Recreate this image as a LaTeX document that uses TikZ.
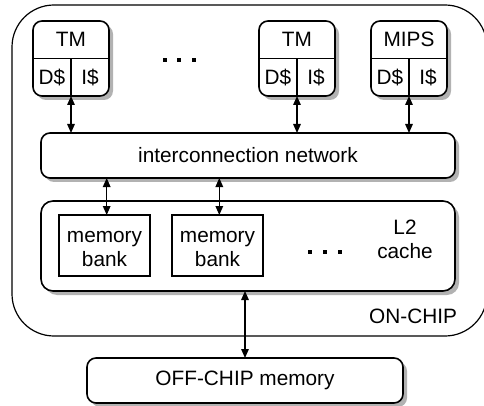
\documentclass[tikz,border=0pt]{standalone}
\usepackage{fontspec}
\setmainfont{Liberation Sans}
\usetikzlibrary{arrows.meta,shadows,calc}

\begin{document}
\begin{tikzpicture}[x=1pt,y=-1pt,
  txt/.style={font=\fontsize{20.8}{24}\selectfont, inner sep=0pt, outer sep=0pt},
  shadowbox/.style={draw, line width=1.6pt, fill=white, rounded corners=#1,
    inner sep=0pt, outer sep=0pt,
    drop shadow={shadow xshift=4pt, shadow yshift=-4pt, fill=black!30, opacity=1}},
  cpu/.style={shadowbox=9pt, minimum width=76pt, minimum height=75pt},
  divider/.style={line width=1.4pt},
  bankbox/.style={draw, line width=1.5pt, fill=white, minimum width=91pt,
    minimum height=61pt, inner sep=0pt, outer sep=0pt},
  chipbox/.style={draw, line width=1.2pt, rounded corners=42pt,
    inner sep=0pt, outer sep=0pt},
  dotsq/.style={fill=black, minimum size=4pt, inner sep=0pt},
  biarrow/.style={{Triangle[length=9pt,width=7.5pt]}-{Triangle[length=9pt,width=7.5pt]},
    line width=1.4pt},
]
\useasboundingbox (0,0) rectangle (484,406);
\clip (0,0) rectangle (484,406);

% on-chip region
\node[chipbox, minimum width=475pt, minimum height=331pt] (chip) at (249.5,170.5) {};
\node[txt, anchor=base east] (chiplabel) at (457,323) {ON-CHIP};

% processors with their L1 caches
\foreach \name/\x/\label in {tm1/71/TM, tm2/297/TM, mips/409/MIPS} {
  \node[cpu] (\name) at (\x,58.5) {};
  \draw[divider] (\name.west) -- (\name.east);
  \draw[divider] (\name.center) -- (\name.south);
  \node[txt] (\name-core) at ($(\name.north)!0.5!(\name.center)$) {\label};
  \node[txt] (\name-d) at ($(\name.center)!0.5!(\name.south west)$) {D\$};
  \node[txt] (\name-i) at ($(\name.center)!0.5!(\name.south east)$) {I\$};
}
\foreach \i/\x in {1/164.5, 2/179, 3/193.5}
  \node[dotsq] (cpudot\i) at (\x,60.5) {};

% interconnection network
\node[shadowbox=9pt, minimum width=414pt, minimum height=45pt] (net) at (248,155.5) {};
\node[txt] (nettext) at (net.center) {interconnection network};

% L2 cache with memory banks
\node[shadowbox=12pt, minimum width=414pt, minimum height=90pt] (l2) at (248,246) {};
\node[bankbox] (bank1) at (104.5,245.5) {};
\node[bankbox] (bank2) at (217.5,245.5) {};
\node[txt, align=center] (bank1text) at ($(bank1.center)+(0,3.8)$) {memory\\bank};
\node[txt, align=center] (bank2text) at ($(bank2.center)+(0,3.8)$) {memory\\bank};
\foreach \i/\x in {1/310, 2/325, 3/340}
  \node[dotsq] (l2dot\i) at (\x,252) {};
\node[txt, align=center] (l2text) at (405,239.6) {L2\\cache};

% off-chip memory
\node[shadowbox=9pt, minimum width=316pt, minimum height=45pt] (offchip) at (245,380.5) {};
\node[txt] (offchiptext) at (offchip.center) {OFF-CHIP memory};

% connections
\draw[biarrow] (tm1.south) -- (tm1.south |- net.north);
\draw[biarrow] (tm2.south) -- (tm2.south |- net.north);
\draw[biarrow] (mips.south) -- (mips.south |- net.north);
\coordinate (b1top) at ([xshift=2.2pt]bank1.north);
\coordinate (b2top) at ([xshift=1.8pt]bank2.north);
\draw[biarrow] (b1top |- net.south) -- (b1top);
\draw[biarrow] (b2top |- net.south) -- (b2top);
\draw[biarrow] (l2.south -| offchip.north) -- (offchip.north);
\end{tikzpicture}
\end{document}
